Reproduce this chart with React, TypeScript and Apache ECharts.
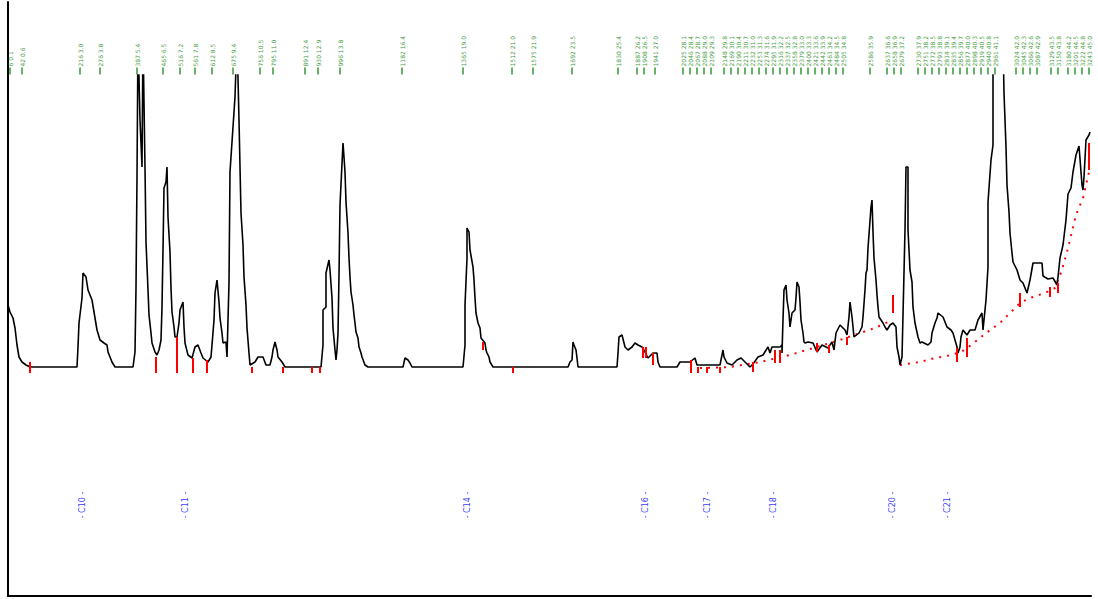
import React, { useEffect, useRef } from "react";
import * as echarts from "echarts";

// Detector trace: [scan, intensity]
const TRACE: [number, number][] = [
  [8,62],[10,55],[13,49],[15,39],[17,22],[19,10],[22,5],[26,2],[30,0],[77,0],[78,20],[79,44],[82,69],[83,94],[86,90],[88,77],[92,67],[95,49],[97,37],[100,27],[104,24],[107,22],[108,15],[112,5],[115,0],[133,0],
  [135,15],[136,79],[137,190],[138,330],[140,247],[142,200],[143,330],[145,199],[146,125],[148,77],[149,52],[151,34],[152,24],[155,15],[157,12],[159,17],[161,27],[162,60],[163,117],[164,179],[166,185],[167,200],[168,150],[170,115],[171,79],[172,55],[174,40],[175,30],[177,30],[179,44],[180,57],[183,65],[184,40],[185,24],[188,12],[192,9],[195,20],[198,22],[201,14],[203,9],[208,5],[211,10],[212,22],[214,47],[215,74],[217,87],[219,65],[220,49],[222,34],[223,24],[226,25],[227,10],[229,84],[230,195],[235,270],[237,330],[239,247],[240,200],[241,154],[243,122],[244,90],[246,62],[247,39],[249,14],[250,2],[255,5],[258,10],[263,10],[266,2],[270,2],[272,10],[273,17],[275,25],[277,17],[278,10],[282,5],[285,0],[321,0],[323,22],[323,57],[326,60],[326,94],[329,107],[330,97],[332,69],[333,39],[335,17],[336,7],[337,17],[338,34],[339,92],[340,162],[343,224],[344,210],[345,195],[346,165],[348,134],[349,109],[350,90],[351,75],[353,62],[354,52],[355,44],[356,35],[358,29],[359,20],[361,14],[362,10],[365,2],[368,0],
  [403,0],[405,9],[408,7],[410,4],[412,0],[463,0],[465,22],[465,62],[467,109],[467,139],[469,135],[470,117],[473,100],[474,87],[475,69],[476,54],[477,49],[478,44],[480,39],[481,29],[485,24],[486,17],[487,14],[489,10],[490,5],[493,0],[568,0],[570,5],[572,7],[573,25],[574,22],[576,17],[577,9],[578,0],[617,0],[618,14],[619,30],[622,32],[625,20],[628,17],[632,20],[635,24],[638,22],[642,20],[645,15],[648,9],[653,14],[657,14],[658,5],[660,0],[677,0],[680,5],[690,5],[695,9],[697,2],[720,2],[723,17],[724,10],[727,4],[732,2],[737,7],[741,9],[745,5],[750,0],[753,3],[758,10],[763,12],[768,20],[770,14],[772,20],[780,20],[782,22],[782,14],[783,47],[784,77],[786,82],[787,67],[789,54],[790,40],[792,54],[795,57],[796,69],[797,85],[799,80],[800,65],[801,47],[803,34],[804,25],[805,24],[808,25],[813,24],[817,15],[822,22],[828,19],[832,25],[834,17],[836,34],[840,42],[845,37],[847,32],[849,50],[850,65],[852,50],[853,40],[854,30],[859,34],[862,40],[863,50],[865,77],[866,94],[867,97],[868,119],[871,160],[872,167],[873,135],[874,109],[876,87],[877,72],[878,60],[879,50],[883,44],[885,40],[887,37],[890,42],[893,44],[896,40],[897,20],[899,10],[900,2],[902,10],[903,52],[905,137],[906,200],[908,200],[908,137],[910,97],[912,85],[913,60],[914,52],[915,44],[918,30],[920,24],[922,25],[928,22],[931,25],[932,34],[935,44],[937,49],[938,54],[943,50],[947,40],[951,37],[953,34],[957,20],[958,14],[960,20],[961,30],[963,37],[967,32],[970,37],[975,37],[978,47],[982,54],[983,37],[986,67],[988,100],[988,165],[991,207],[993,222],[993,330],[1003,330],[1004,274],[1006,220],[1007,182],[1009,155],[1010,134],[1012,114],[1013,105],[1017,97],[1020,87],[1023,84],[1027,74],[1030,87],[1033,104],[1042,104],[1043,91],[1048,88],[1053,89],[1057,82],[1058,90],[1060,109],[1063,122],[1066,147],[1068,173],[1071,179],[1073,195],[1076,212],[1079,221],[1082,182],[1083,177],[1084,190],[1086,227],[1089,232],[1090,235]
];

// Integration baselines
const BASE_A: [number, number][] = [[700,-1],[730,0],[760,5],[790,12],[800,15],[820,21],[840,27],[860,34],[875,39],[888,45]];
const BASE_B: [number, number][] = [[900,2],[920,5],[935,9],[952,12],[965,17],[975,25],[990,37],[1000,44],[1010,54],[1020,64],[1030,69],[1045,74],[1055,79],[1062,97],[1068,119],[1076,152],[1083,169],[1089,195]];

// Peak boundary drop lines: [scan, top, bottom]
const DROPS: [number, number, number][] = [
  [30,5,-6],[156,10,-6],[177,30,-6],[193,9,-6],[207,7,-6],[252,0,-6],[283,0,-6],[312,0,-6],[320,0,-6],
  [483,25,17],[513,0,-6],[643,20,9],[646,20,9],[653,14,2],[691,7,-6],[698,0,-6],[707,0,-6],[720,0,-6],
  [753,5,-5],[775,17,4],[780,17,4],[817,24,15],[829,22,14],[847,30,22],[893,72,54],[957,19,5],[967,29,10],
  [1020,74,60],[1050,80,70],[1058,84,74],[1089,224,197]
];

// Peak apex label positions (scan)
const PEAK_X: number[] = [10,22,80,100,137,163,180,195,212,233,260,273,305,318,340,402,463,512,533,572,618,637,644,655,683,690,697,704,711,724,731,738,745,752,759,766,773,780,787,794,801,808,815,822,829,836,843,870,887,894,901,918,925,932,939,946,953,960,967,974,981,988,995,1016,1023,1030,1037,1051,1058,1068,1075,1082,1089];

// Reference markers
const MARKER_X: number[] = [82,185,467,645,707,773,892,947];
const MARKER_NAMES: string[] = ["- C10 -","- C11 -","- C14 -","- C16 -","- C17 -","- C18 -","- C20 -","- C21 -"];
const MARKER_LEVEL = -138;

export default function App() {
  const ref = useRef<HTMLDivElement>(null);
  useEffect(() => {
    if (!ref.current) return;
    const chart = echarts.init(ref.current, undefined, { renderer: "svg" });
    const hiddenAxis = {
      axisTick: { show: false },
      axisLabel: { show: false },
      splitLine: { show: false },
    };
    chart.setOption({
      animation: false,
      grid: [
        { left: 8, right: 7, top: 75, bottom: 3 },
        { left: 8, right: 7, top: 2, height: 73 },
      ],
      xAxis: [
        { gridIndex: 0, type: "value", min: 8, max: 1091, axisLine: { show: true, onZero: false, lineStyle: { color: "#000", width: 2 } }, ...hiddenAxis },
        { gridIndex: 1, type: "value", min: 8, max: 1091, show: false },
      ],
      yAxis: [
        { gridIndex: 0, type: "value", min: -229, max: 292, axisLine: { show: true, onZero: false, lineStyle: { color: "#000", width: 2 } }, ...hiddenAxis },
        { gridIndex: 1, type: "value", min: 0, max: 73, axisLine: { show: true, onZero: false, lineStyle: { color: "#000", width: 2 } }, ...hiddenAxis },
      ],
      series: [
        {
          type: "line",
          data: BASE_A,
          symbol: "none",
          lineStyle: { color: "#ff0000", width: 2, type: [2, 6] },
          z: 1,
          markLine: {
            symbol: ["none", "none"],
            silent: true,
            animation: false,
            label: { show: false },
            lineStyle: { color: "#ff0000", width: 2, type: "solid" },
            data: DROPS.map(([x, t, b]) => [{ coord: [x, t] }, { coord: [x, b] }]),
          },
        },
        {
          type: "line",
          data: BASE_B,
          symbol: "none",
          lineStyle: { color: "#ff0000", width: 2, type: [2, 6] },
          z: 1,
        },
        {
          type: "line",
          data: TRACE,
          symbol: "none",
          clip: true,
          lineStyle: { color: "#000", width: 1.6 },
          z: 2,
        },
        {
          type: "scatter",
          xAxisIndex: 1,
          yAxisIndex: 1,
          data: PEAK_X.map((x) => [x, 4]),
          symbol: "rect",
          symbolSize: [1.5, 7],
          itemStyle: { color: "#008000" },
          label: {
            show: true,
            position: ["50%", -1],
            rotate: 90,
            align: "left",
            verticalAlign: "middle",
            fontSize: 6,
            fontFamily: "DejaVu Sans",
            color: "#008000",
            formatter: (p: any) => `${Math.round((p.value[0] - 8) * 3)} ${((p.value[0] - 8) / 24).toFixed(1)}`,
          },
        },
        {
          type: "scatter",
          data: MARKER_X.map((x, i) => ({ value: [x, MARKER_LEVEL], name: MARKER_NAMES[i] })),
          symbolSize: 1,
          itemStyle: { color: "rgba(0,0,0,0)" },
          label: {
            show: true,
            position: "inside",
            rotate: 90,
            align: "center",
            verticalAlign: "middle",
            fontSize: 8,
            fontFamily: "DejaVu Sans",
            color: "#0000ff",
            formatter: (p: any) => p.name,
          },
        },
      ],
    });
    return () => chart.dispose();
  }, []);
  return (
    <div
      ref={ref}
      style={{ position: "absolute", left: 0, top: 0, width: 1098, height: 599, background: "#fff" }}
    />
  );
}
